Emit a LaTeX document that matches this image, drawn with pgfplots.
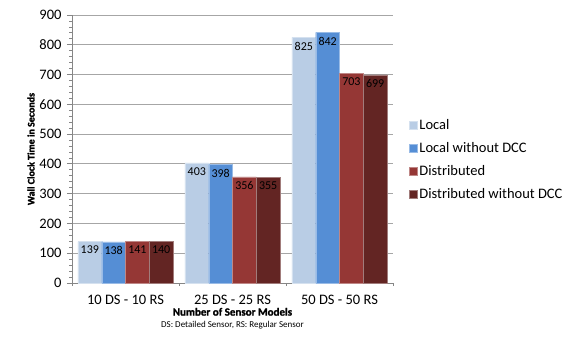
\documentclass[border=0pt]{standalone}
\usepackage{pgfplots}
\pgfplotsset{compat=1.18}
\usepackage{fontspec}
\setmainfont{Carlito}[BoldFont={Carlito Bold}, BoldFeatures={FakeBold=1.5}]
\definecolor{cLocal}{HTML}{B9CDE5}
\definecolor{cLocalN}{HTML}{558ED5}
\definecolor{cDist}{HTML}{953735}
\definecolor{cDistN}{HTML}{632523}
\definecolor{gridc}{HTML}{A6A6A6}
\definecolor{axc}{HTML}{868686}
\begin{document}
\begin{tikzpicture}
\path[use as bounding box] (0,0) rectangle (577pt,343pt);
\begin{axis}[
  at={(72pt,60pt)}, anchor=south west,
  scale only axis, width=321pt, height=268pt,
  ybar, bar width=0.222, ybar=0pt,
  xmin=-0.5, xmax=2.5, ymin=0, ymax=900,
  axis lines*=left,
  axis line style={axc, line width=0.8pt},
  xtick={0,1,2},
  xticklabels={10 DS - 10 RS, 25 DS - 25 RS, 50 DS - 50 RS},
  minor xtick={-0.5,0.5,1.5,2.5},
  major x tick style={draw=none},
  minor x tick style={axc, line width=0.8pt},
  ytick={0,100,...,900},
  minor y tick num=4,
  tick align=outside,
  major tick length=5pt,
  minor tick length=3pt,
  y tick style={axc, line width=0.8pt},
  ymajorgrids,
  major grid style={gridc, line width=0.9pt},
  /pgf/number format/assume math mode=true,
  tick label style={font=\fontsize{14.5}{16}\selectfont, text=black},
  yticklabel style={xshift=-2pt},
  xticklabel style={yshift=-4pt},
  xlabel={\textbf{Number of Sensor Models}\\[-1pt]{\fontsize{9}{10}\selectfont DS: Detailed Sensor, RS: Regular Sensor}},
  xlabel style={font=\fontsize{11}{13}\selectfont, align=center, yshift=4pt},
  ylabel={\textbf{Wall Clock Time in Seconds}},
  ylabel style={font=\fontsize{10}{12}\selectfont, yshift=-2pt},
  nodes near coords,
  every node near coord/.append style={font=\fontsize{12}{13}\selectfont, text=black, anchor=north, yshift=-1pt},
  legend style={at={(1.04,0.46)}, anchor=west, draw=none, fill=none,
    font=\fontsize{14.5}{16}\selectfont, row sep=7.5pt},
  legend cell align=left,
  legend image code/.code={\fill[#1] (0pt,-4pt) rectangle (8pt,4pt);},
]
\addplot[fill=cLocal, draw=cLocal!60!white, line width=0.4pt] coordinates {(0,139) (1,403) (2,825)};
\addplot[fill=cLocalN, draw=cLocalN!60!white, line width=0.4pt] coordinates {(0,138) (1,398) (2,842)};
\addplot[fill=cDist, draw=cDist!60!white, line width=0.4pt] coordinates {(0,141) (1,356) (2,703)};
\addplot[fill=cDistN, draw=cDistN!60!white, line width=0.4pt] coordinates {(0,140) (1,355) (2,699)};
\legend{Local, Local without DCC, Distributed, Distributed without DCC}
\end{axis}
\end{tikzpicture}
\end{document}
